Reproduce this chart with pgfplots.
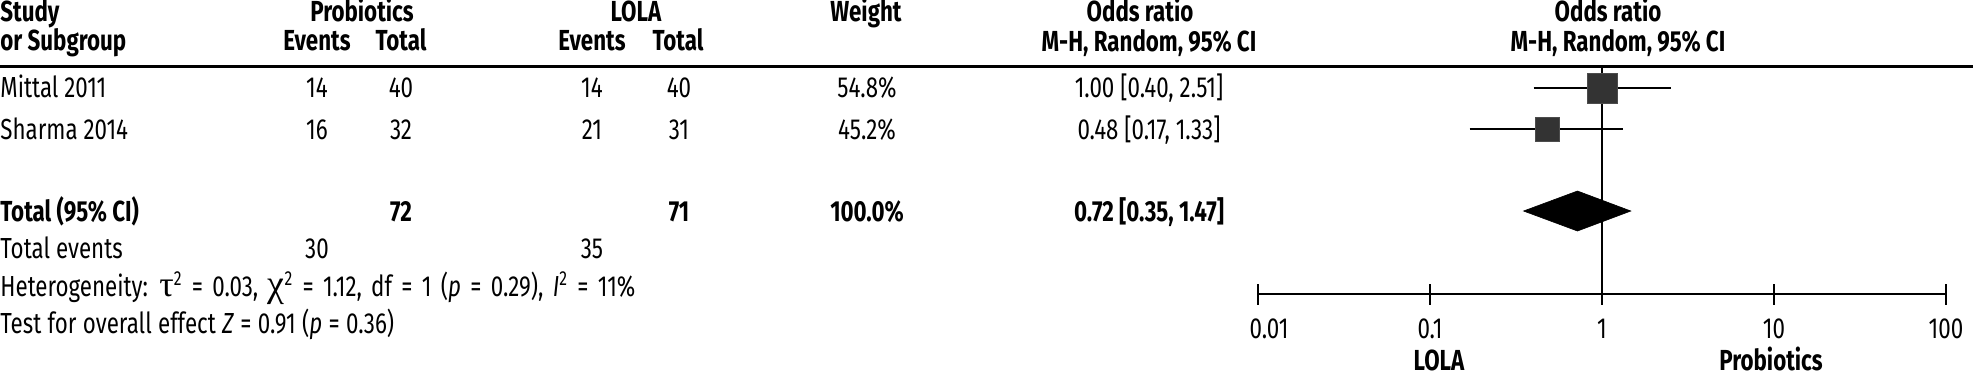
\documentclass[border=0pt]{standalone}
\usepackage{fontspec}
\setmainfont{Fira Sans}[FakeStretch=0.77]
\newfontfamily\gk{Liberation Serif}
\usepackage{pgfplots}
\pgfplotsset{compat=1.18}
\newcommand{\fs}{\fontsize{14.5pt}{16pt}\selectfont}
\begin{document}
\begin{tikzpicture}
\begin{scope}[x=0.5pt,y=-0.5pt,every node/.style={inner sep=0pt,font=\fs}]
\useasboundingbox (0,0) rectangle (1973,377);
% header
\node[anchor=base west,font=\fs\bfseries] at (0,21) {Study};
\node[anchor=base west,font=\fs\bfseries] at (0,50) {or Subgroup};
\node[anchor=base,font=\fs\bfseries] at (362,21) {Probiotics};
\node[anchor=base,font=\fs\bfseries] at (317,50) {Events};
\node[anchor=base,font=\fs\bfseries] at (401,50) {Total};
\node[anchor=base,font=\fs\bfseries] at (636,21) {LOLA};
\node[anchor=base,font=\fs\bfseries] at (592,50) {Events};
\node[anchor=base,font=\fs\bfseries] at (678,50) {Total};
\node[anchor=base,font=\fs\bfseries] at (866,21) {Weight};
\node[anchor=base,font=\fs\bfseries] at (1140,21) {Odds ratio};
\node[anchor=base,font=\fs\bfseries] at (1149,51) {M-H, Random, 95\% CI};
\node[anchor=base,font=\fs\bfseries] at (1608,21) {Odds ratio};
\node[anchor=base,font=\fs\bfseries] at (1618,51) {M-H, Random, 95\% CI};
\draw[line width=1.5pt] (0,66.7) -- (1973,66.7);
% rows
\node[anchor=base west] at (0,97) {Mittal 2011};
\node[anchor=base] at (317,97) {14};
\node[anchor=base] at (401,97) {40};
\node[anchor=base] at (592,97) {14};
\node[anchor=base] at (679,97) {40};
\node[anchor=base] at (867,97) {54.8\%};
\node[anchor=base] at (1149,97) {1.00 [0.40, 2.51]};
\node[anchor=base west] at (0,139) {Sharma 2014};
\node[anchor=base] at (317,139) {16};
\node[anchor=base] at (401,139) {32};
\node[anchor=base] at (592,139) {21};
\node[anchor=base] at (679,139) {31};
\node[anchor=base] at (867,139) {45.2\%};
\node[anchor=base] at (1149,139) {0.48 [0.17, 1.33]};
\node[anchor=base west,font=\fs\bfseries] at (0,221) {Total (95\% CI)};
\node[anchor=base,font=\fs\bfseries] at (401,221) {72};
\node[anchor=base,font=\fs\bfseries] at (679,221) {71};
\node[anchor=base,font=\fs\bfseries] at (867,221) {100.0\%};
\node[anchor=base,font=\fs\bfseries] at (1149,221) {0.72 [0.35, 1.47]};
\node[anchor=base west] at (0,258) {Total events};
\node[anchor=base] at (317,258) {30};
\node[anchor=base] at (592,258) {35};
\node[anchor=base west] at (0,296) {\spaceskip=\dimexpr\fontdimen2\font+1.7pt\relax Heterogeneity: {\gk\fontsize{18pt}{15pt}\selectfont τ}\textsuperscript{2} = 0.03, {\gk\fontsize{19pt}{15pt}\selectfont χ}\textsuperscript{2} = 1.12, df = 1 (\textit{p} = 0.29), \textit{I}\textsuperscript{2} = 11\%};
\node[anchor=base west] at (0,333) {\spaceskip=\dimexpr\fontdimen2\font+0.2pt\relax Test for overall effect \textit{Z} = 0.91 (\textit{p} = 0.36)};
\node[anchor=base,font=\fs\bfseries] at (1439,370) {LOLA};
\node[anchor=base,font=\fs\bfseries] at (1771,370) {Probiotics};
\end{scope}
\begin{axis}[
  at={(629pt,-147pt)}, anchor=south west,
  scale only axis, width=344pt, height=113.5pt,
  xmode=log, xmin=0.01, xmax=100, ymin=-294, ymax=-67,
  axis x line*=bottom, axis y line=none,
  xtick={0.01,0.1,1,10,100},
  xticklabels={{\hspace{11pt}0.01},0.1,1,10,{100\hspace{5pt}}},
  xminorticks=false,
  tick align=center, major tick length=10.5pt,
  every tick/.style={black, line width=1.2pt},
  axis line style={black, line width=1.4pt},
  xticklabel style={font=\fs, anchor=base, inner sep=0pt, yshift=-17pt},
  clip=false,
]
\addplot[black, line width=1.2pt] coordinates {(1,-67) (1,-294)};
\addplot[black, line width=1.25pt] coordinates {(0.40,-88) (2.51,-88)};
\addplot[black, line width=1.25pt] coordinates {(0.17,-129) (1.33,-129)};
\addplot[only marks, mark=square*, mark size=7.5pt, mark options={fill=black!80, draw=black!70, line width=0.4pt}] coordinates {(1.00,-88)};
\addplot[only marks, mark=square*, mark size=6pt, mark options={fill=black!80, draw=black!70, line width=0.4pt}] coordinates {(0.48,-129)};
\addplot[fill=black, draw=black, line width=0.3pt] coordinates {(0.35,-211) (0.72,-191) (1.47,-211) (0.72,-231)} -- cycle;
\end{axis}
\end{tikzpicture}
\end{document}
